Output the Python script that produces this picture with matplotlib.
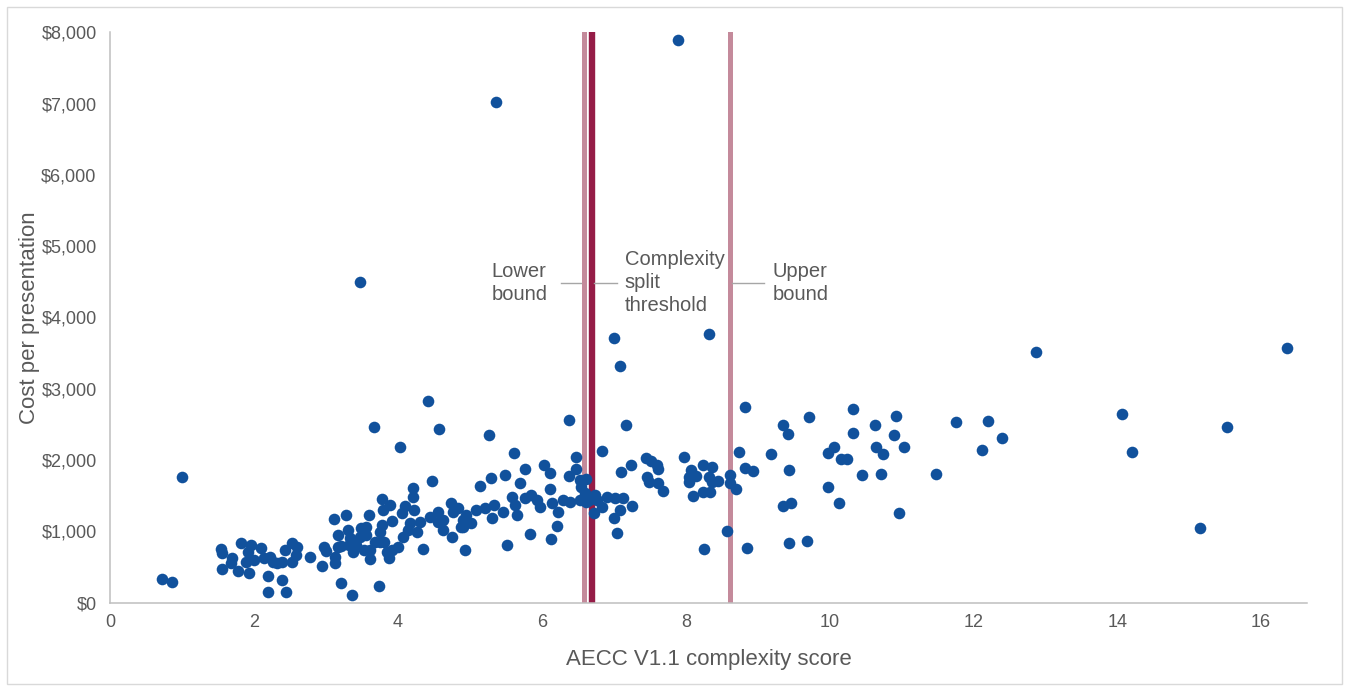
import matplotlib
matplotlib.use("Agg")
import matplotlib.pyplot as plt
from matplotlib.ticker import FuncFormatter
from matplotlib.patches import Rectangle

# AECC V1.1 complexity score vs cost per presentation
score = [1.00, 0.72, 0.86, 1.53, 1.55, 1.55, 1.69, 1.67, 1.82, 1.77, 1.95, 1.91, 1.93, 2.09, 1.99,
         2.13, 2.22, 2.26, 2.19, 2.19, 2.38, 2.44, 2.38, 2.43, 2.53, 2.59, 2.58, 2.53, 1.89, 2.31,
         2.78, 2.94, 2.97, 3.00, 3.11, 3.17, 3.17, 3.12, 3.21, 3.28, 3.30, 3.32,
         4.47, 4.21, 4.21, 3.77, 3.89, 3.79, 4.10, 4.22, 4.05, 3.60, 3.92, 4.16, 4.30, 4.45,
         4.56, 4.73, 4.83, 4.95, 5.09, 4.88, 4.75, 4.93, 4.63, 4.56, 4.35, 4.26, 4.14, 4.07,
         4.00, 3.88, 3.91, 3.81, 3.75, 3.68, 3.61, 3.61, 3.56, 3.56, 3.47, 3.49, 3.42, 3.37,
         3.33, 3.20, 3.12, 3.36, 3.74, 5.14, 3.75, 3.52, 3.84, 3.77,
         4.41, 3.66, 4.57, 4.02, 5.27, 6.38, 5.61, 6.47, 5.77, 6.03, 6.11, 6.47, 6.38, 5.49,
         5.29, 5.69, 6.11, 5.58, 5.77, 5.85, 5.97, 6.14, 6.22, 6.21, 5.84, 6.13, 5.52, 6.29,
         6.39, 5.21, 5.34, 5.46, 5.63, 4.63, 4.77, 4.90, 5.02, 4.90, 5.93, 5.65, 5.30,
         6.84, 7.17, 7.10, 6.53, 6.61, 6.55, 6.60, 6.74, 6.77, 6.90, 7.02, 7.13, 6.83, 6.72,
         7.00, 7.09, 7.04, 6.53, 6.65, 6.61, 7.25,
         7.00, 7.08, 8.32, 8.82, 9.72, 9.35, 9.42, 7.45, 7.52, 7.60, 7.62, 7.24, 7.97, 8.24,
         8.36, 8.07, 8.74, 8.82, 8.93, 9.19, 9.44, 7.46, 7.49, 7.61, 7.68, 8.04, 8.05, 8.14,
         8.33, 8.37, 8.45, 8.10, 8.24, 8.34, 8.62, 8.62, 8.70, 8.57, 8.26, 8.85, 9.35, 9.47,
         9.44, 9.69,
         10.33, 10.33, 10.92, 10.63, 10.90, 10.06, 9.98, 10.65, 10.74, 11.03, 10.16, 10.24,
         10.45, 10.71, 11.48, 11.76, 12.21, 12.40, 12.12, 9.98, 10.13, 10.96,
         12.87, 14.06, 14.20, 15.53, 15.15, 16.36, 5.36, 7.89, 3.47]
cost = [1759, 333, 286, 749, 701, 473, 623, 553, 842, 445, 810, 716, 421, 763, 599,
        623, 637, 575, 375, 150, 318, 150, 575, 739, 833, 786, 669, 575, 575, 561,
        645, 519, 786, 730, 1174, 950, 786, 553, 272, 1230, 1020, 810,
        1712, 1613, 1487, 1451, 1371, 1301, 1357, 1301, 1254, 1230, 1150, 1122, 1136, 1207,
        1277, 1395, 1324, 1230, 1301, 1066, 926, 739, 1020, 1136, 749, 996, 1020, 926,
        786, 623, 739, 856, 996, 856, 739, 609, 950, 1066, 926, 1044, 810, 716,
        904, 795, 645, 108, 239, 1637, 856, 739, 716, 1090,
        2830, 2461, 2441, 2184, 2353, 2567, 2096, 2048, 1880, 1932, 1815, 1872, 1782, 1787,
        1745, 1684, 1591, 1487, 1465, 1511, 1347, 1395, 1268, 1080, 964, 890, 814, 1441,
        1417, 1324, 1371, 1277, 1371, 1160, 1277, 1160, 1114, 1066, 1441, 1230, 1184,
        2128, 2493, 1838, 1721, 1731, 1627, 1535, 1511, 1441, 1487, 1465, 1465, 1347, 1263,
        1193, 1301, 982, 1441, 1441, 1417, 1357,
        3718, 3321, 3770, 2750, 2601, 2493, 2371, 2034, 1988, 1932, 1876, 1932, 2048, 1932,
        1900, 1862, 2110, 1886, 1852, 2086, 1862, 1768, 1698, 1675, 1571, 1768, 1698, 1778,
        1759, 1698, 1707, 1497, 1557, 1557, 1792, 1675, 1591, 1010, 749, 763, 1357, 1403,
        833, 870,
        2722, 2385, 2615, 2493, 2353, 2189, 2096, 2189, 2082, 2189, 2016, 2016,
        1792, 1806, 1806, 2539, 2553, 2311, 2142, 1619, 1395, 1254,
        3522, 2643, 2119, 2461, 1052, 3578, 7025, 7895, 4500]

lower_bound = 6.59
threshold = 6.70
upper_bound = 8.61

grey = '#595959'
plt.rcParams['font.family'] = 'Liberation Sans'

fig = plt.figure(figsize=(13.49, 6.91), dpi=100)
ax = fig.add_axes([0.0819, 0.1278, 0.8870, 0.8255])

ax.axvline(lower_bound, color='#c48a9b', lw=3.6, zorder=2)
ax.axvline(upper_bound, color='#c48a9b', lw=3.6, zorder=2)
ax.axvline(threshold, color='#951c47', lw=4.6, zorder=2)
ax.scatter(score, cost, s=70, color='#11519c', linewidths=0, zorder=3)

# labels for the three vertical lines
y_note = 4488
ax.text(5.30, y_note, 'Lower\nbound', ha='left', va='center', fontsize=14.5,
        color=grey, linespacing=1.25)
ax.plot([6.27, lower_bound - 0.04], [y_note, y_note], color='#a6a6a6', lw=1)
ax.text(7.15, y_note, 'Complexity\nsplit\nthreshold', ha='left', va='center', fontsize=14.5,
        color=grey, linespacing=1.25)
ax.plot([threshold + 0.03, 7.04], [y_note, y_note], color='#a6a6a6', lw=1)
ax.text(9.21, y_note, 'Upper\nbound', ha='left', va='center', fontsize=14.5,
        color=grey, linespacing=1.25)
ax.plot([upper_bound + 0.03, 9.09], [y_note, y_note], color='#a6a6a6', lw=1)

ax.set_xlim(0, 16.64)
ax.set_ylim(0, 8000)
ax.set_xticks(range(0, 17, 2))
ax.set_yticks(range(0, 8001, 1000))
ax.yaxis.set_major_formatter(FuncFormatter(lambda v, p: '${:,.0f}'.format(v)))
ax.tick_params(axis='both', length=0, labelsize=13, colors=grey)
ax.tick_params(axis='y', pad=10)
ax.tick_params(axis='x', pad=8)

for side in ['top', 'right']:
    ax.spines[side].set_visible(False)
for side in ['left', 'bottom']:
    ax.spines[side].set_color('#bfbfbf')
    ax.spines[side].set_linewidth(1.1)

ax.set_xlabel('AECC V1.1 complexity score', fontsize=16, color=grey, labelpad=13)
ax.set_ylabel('Cost per presentation', fontsize=16, color=grey, labelpad=1)

# light frame around the whole chart
fig.patches.append(Rectangle((0.0054, 0.0101), 0.9892, 0.9798, transform=fig.transFigure,
                             fill=False, edgecolor='#d9d9d9', lw=1))

fig.savefig('out.png', dpi=100)
